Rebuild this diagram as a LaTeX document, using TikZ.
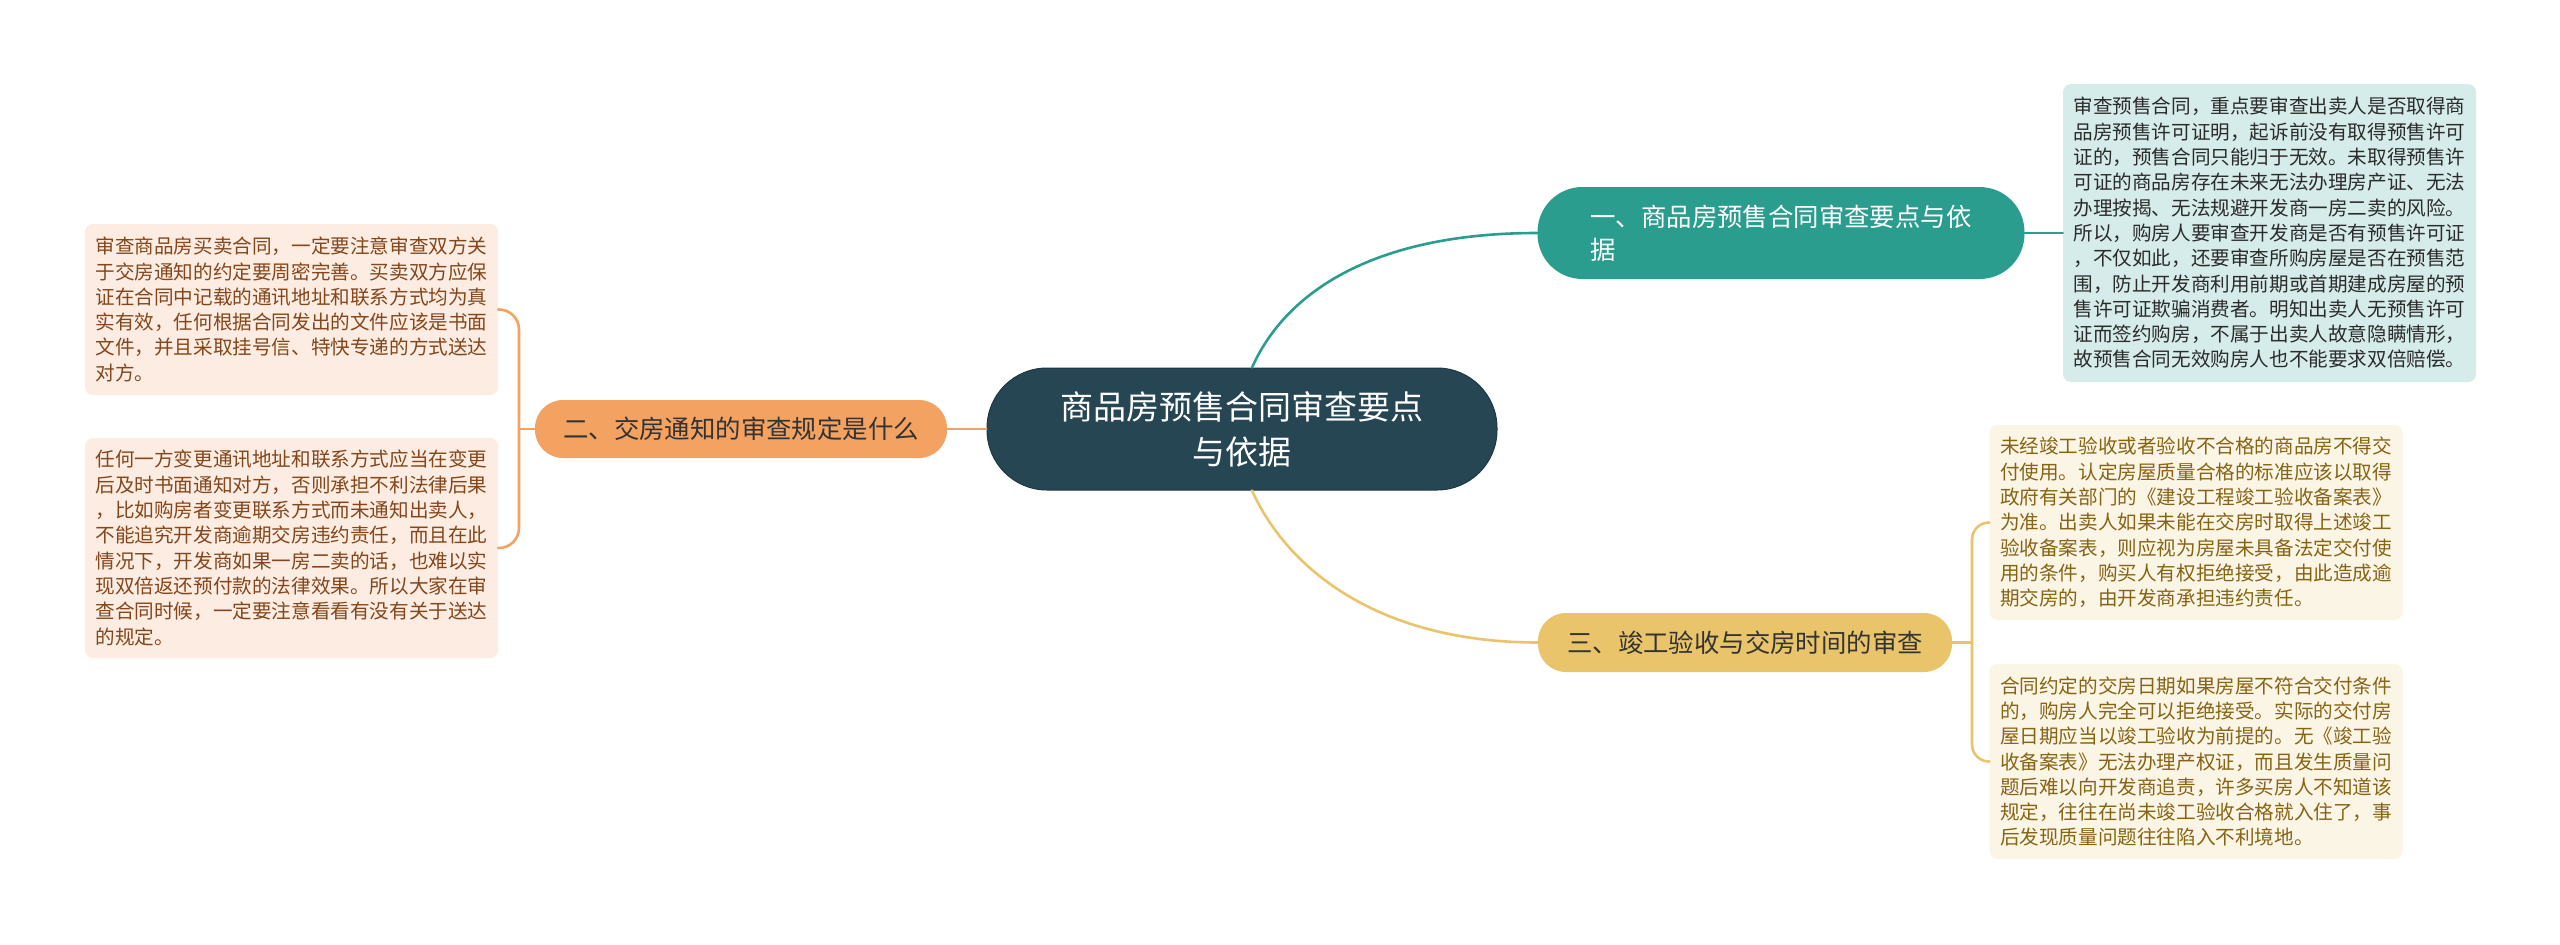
\documentclass[tikz,border=0pt]{standalone}
\usepackage{fontspec}
\newfontfamily\cjk{Noto Sans CJK SC}
\usetikzlibrary{calc}
\definecolor{cmain}{HTML}{264653}
\definecolor{cteal}{HTML}{2A9D8F}
\definecolor{cyel}{HTML}{E9C46A}
\definecolor{corg}{HTML}{F4A261}
\definecolor{lteal}{HTML}{D6ECEA}
\definecolor{lyel}{HTML}{FBF5E6}
\definecolor{lorg}{HTML}{FCECE2}
\definecolor{tteal}{HTML}{2B2B2B}
\definecolor{tyel}{HTML}{876414}
\definecolor{torg}{HTML}{84461A}
\definecolor{tdark}{HTML}{333333}
\begin{document}
\begin{tikzpicture}[x=1pt,y=-1pt,
  mainnode/.style={fill=cmain, draw=cmain!80!black, line width=1pt, text=white, rounded corners=60pt,
    minimum width=510pt, minimum height=122pt, align=center, inner sep=0pt,
    font=\cjk\fontsize{33}{45}\selectfont},
  branch/.style={align=left, inner sep=0pt, font=\cjk\fontsize{25.4}{33}\selectfont},
  leaf/.style={rounded corners=8pt, align=left, inner xsep=10pt, inner ysep=0pt,
    minimum width=413pt, font=\cjk\fontsize{19.6}{25.3}\selectfont},
  conn/.style={line width=2.6pt, line cap=round}
]
\useasboundingbox (0,0) rectangle (2560,945);
\fill[white] (0,0) rectangle (2560,945);

% center
\node[mainnode] (c) at (1242,429) {商品房预售合同审查要点\\与依据};

% branches
\node[branch, fill=cteal, text=white, rounded corners=45pt, minimum width=487pt, minimum height=92pt] (b1) at (1781,233)
  {一、商品房预售合同审查要点与依\\据};
\node[branch, fill=corg, text=tdark, rounded corners=28pt, minimum width=412pt, minimum height=58pt] (b2) at (741,429)
  {二、交房通知的审查规定是什么};
\node[branch, fill=cyel, text=tdark, rounded corners=28pt, minimum width=414pt, minimum height=59pt] (b3) at (1745,642.5)
  {三、竣工验收与交房时间的审查};

% leaves
\node[leaf, fill=lteal, text=tteal, minimum height=298pt] (tr) at (2269.5,233) {%
审查预售合同，重点要审查出卖人是否取得商\\
品房预售许可证明，起诉前没有取得预售许可\\
证的，预售合同只能归于无效。未取得预售许\\
可证的商品房存在未来无法办理房产证、无法\\
办理按揭、无法规避开发商一房二卖的风险。\\
所以，购房人要审查开发商是否有预售许可证\\
，不仅如此，还要审查所购房屋是否在预售范\\
围，防止开发商利用前期或首期建成房屋的预\\
售许可证欺骗消费者。明知出卖人无预售许可\\
证而签约购房，不属于出卖人故意隐瞒情形，\\
故预售合同无效购房人也不能要求双倍赔偿。};

\node[leaf, fill=lyel, text=tyel, minimum height=195pt] (rm) at (2196,522.5) {%
未经竣工验收或者验收不合格的商品房不得交\\
付使用。认定房屋质量合格的标准应该以取得\\
政府有关部门的《建设工程竣工验收备案表》\\
为准。出卖人如果未能在交房时取得上述竣工\\
验收备案表，则应视为房屋未具备法定交付使\\
用的条件，购买人有权拒绝接受，由此造成逾\\
期交房的，由开发商承担违约责任。};

\node[leaf, fill=lyel, text=tyel, minimum height=195pt] (rb) at (2196,761.5) {%
合同约定的交房日期如果房屋不符合交付条件\\
的，购房人完全可以拒绝接受。实际的交付房\\
屋日期应当以竣工验收为前提的。无《竣工验\\
收备案表》无法办理产权证，而且发生质量问\\
题后难以向开发商追责，许多买房人不知道该\\
规定，往往在尚未竣工验收合格就入住了，事\\
后发现质量问题往往陷入不利境地。};

\node[leaf, fill=lorg, text=torg, minimum height=171pt] (lt) at (291.5,309.5) {%
审查商品房买卖合同，一定要注意审查双方关\\
于交房通知的约定要周密完善。买卖双方应保\\
证在合同中记载的通讯地址和联系方式均为真\\
实有效，任何根据合同发出的文件应该是书面\\
文件，并且采取挂号信、特快专递的方式送达\\
对方。};

\node[leaf, fill=lorg, text=torg, minimum height=220pt] (lb) at (291.5,548) {%
任何一方变更通讯地址和联系方式应当在变更\\
后及时书面通知对方，否则承担不利法律后果\\
，比如购房者变更联系方式而未通知出卖人，\\
不能追究开发商逾期交房违约责任，而且在此\\
情况下，开发商如果一房二卖的话，也难以实\\
现双倍返还预付款的法律效果。所以大家在审\\
查合同时候，一定要注意看看有没有关于送达\\
的规定。};

% connectors
\draw[conn, cteal] ($(c.north)+(10,0)$) .. controls ($(c.north)+(45,-78)$) and ($(b1.west)+(-160,0)$) .. (b1.west);
\draw[conn, cyel] ($(c.south)+(10,0)$) .. controls ($(c.south)+(45,78)$) and ($(b3.west)+(-160,0)$) .. (b3.west);
\draw[conn, corg] (c.west) -- (b2.east);

\draw[conn, cteal] (b1.east) -- (tr.west);

\coordinate (lj) at (519,429);
\draw[conn, corg] (b2.west) -- (lj);
\draw[conn, corg, rounded corners=20pt] (lt.east) -| (lj);
\draw[conn, corg, rounded corners=20pt] (lb.east) -| (lj);

\coordinate (rj) at (1972,642.5);
\draw[conn, cyel] (b3.east) -- (rj);
\draw[conn, cyel, rounded corners=17pt] (rm.west) -| (rj);
\draw[conn, cyel, rounded corners=17pt] (rb.west) -| (rj);
\end{tikzpicture}
\end{document}
